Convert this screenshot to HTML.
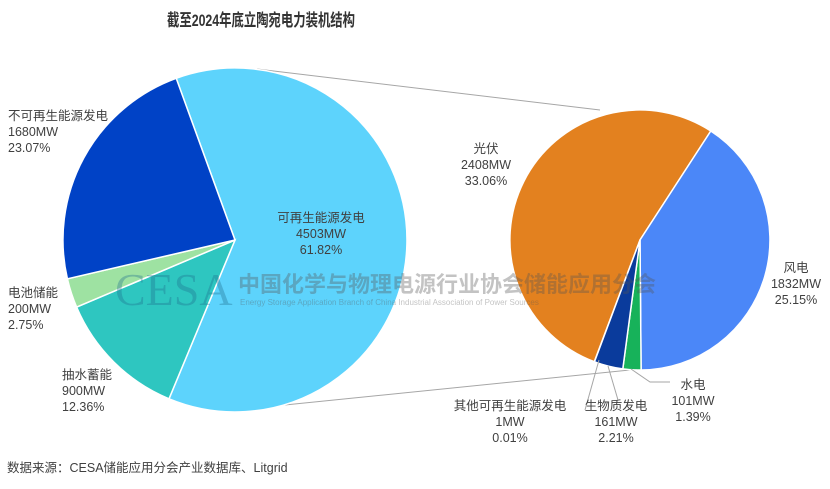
<!DOCTYPE html>
<html><head><meta charset="utf-8"><style>
body{margin:0;background:#fff;}
svg text{font-family:"Liberation Sans","Noto Sans CJK SC",sans-serif;fill:#404040;font-size:12.5px;}
</style></head><body>
<svg width="830" height="484" viewBox="0 0 830 484" xmlns="http://www.w3.org/2000/svg">
<rect width="830" height="484" fill="#fff"/>
<text x="167" y="26" textLength="188" lengthAdjust="spacingAndGlyphs" style="font-size:17px;font-weight:bold;fill:#333">截至2024年底立陶宛电力装机结构</text>
<line x1="257" y1="69" x2="600" y2="110" stroke="#a6a6a6" stroke-width="1"/>
<line x1="245" y1="409" x2="640" y2="369" stroke="#a6a6a6" stroke-width="1"/>
<g stroke="#fff" stroke-width="1.5">
<path d="M235,240 L176.2,78.3 A172,172 0 1 1 169,398.8 Z" fill="#5dd3fc"/>
<path d="M235,240 L169,398.8 A172,172 0 0 1 76.6,307.1 Z" fill="#2ec6c0"/>
<path d="M235,240 L76.6,307.1 A172,172 0 0 1 67.4,278.8 Z" fill="#9ee2a2"/>
<path d="M235,240 L67.4,278.8 A172,172 0 0 1 176.2,78.3 Z" fill="#0042c6"/>
<path d="M640,240 L594.3,361.7 A130,130 0 1 1 710.8,131 Z" fill="#e3811f"/>
<path d="M640,240 L710.8,131 A130,130 0 0 1 641.1,370 Z" fill="#4b87f8"/>
<path d="M640,240 L641.1,370 A130,130 0 0 1 622.8,368.9 Z" fill="#17b25a"/>
<path d="M640,240 L622.8,368.9 A130,130 0 0 1 594.5,361.8 Z" fill="#0a3b9c"/>
</g>
<g opacity="0.35">
<text x="115" y="305" style="font-family:'Liberation Serif',serif;font-size:46px;fill:#1f6f8f">CESA</text>
<text x="238" y="292" style="font-size:22px;fill:#555;font-weight:bold">中国化学与物理电源行业协会储能应用分会</text>
<text x="240" y="305" style="font-size:8px;fill:#555">Energy Storage Application Branch of China Industrial Association of Power Sources</text>
</g>
<g stroke="#a6a6a6" fill="none">
<polyline points="599,360 585,410"/>
<polyline points="608,366 618,400"/>
<polyline points="631,369 650,382 670,382"/>
</g>
<text x="8" y="120">不可再生能源发电</text>
<text x="8" y="136">1680MW</text>
<text x="8" y="152">23.07%</text>
<text x="8" y="297">电池储能</text>
<text x="8" y="313">200MW</text>
<text x="8" y="329">2.75%</text>
<text x="62" y="379">抽水蓄能</text>
<text x="62" y="395">900MW</text>
<text x="62" y="411">12.36%</text>
<text x="321" y="222" text-anchor="middle">可再生能源发电</text>
<text x="321" y="238" text-anchor="middle">4503MW</text>
<text x="321" y="254" text-anchor="middle">61.82%</text>
<text x="486" y="153" text-anchor="middle">光伏</text>
<text x="486" y="169" text-anchor="middle">2408MW</text>
<text x="486" y="185" text-anchor="middle">33.06%</text>
<text x="796" y="272" text-anchor="middle">风电</text>
<text x="796" y="288" text-anchor="middle">1832MW</text>
<text x="796" y="304" text-anchor="middle">25.15%</text>
<text x="693" y="389" text-anchor="middle">水电</text>
<text x="693" y="405" text-anchor="middle">101MW</text>
<text x="693" y="421" text-anchor="middle">1.39%</text>
<text x="616" y="410" text-anchor="middle">生物质发电</text>
<text x="616" y="426" text-anchor="middle">161MW</text>
<text x="616" y="442" text-anchor="middle">2.21%</text>
<text x="510" y="410" text-anchor="middle">其他可再生能源发电</text>
<text x="510" y="426" text-anchor="middle">1MW</text>
<text x="510" y="442" text-anchor="middle">0.01%</text>
<text x="7" y="472">数据来源：CESA储能应用分会产业数据库、Litgrid</text>
</svg>
</body></html>
